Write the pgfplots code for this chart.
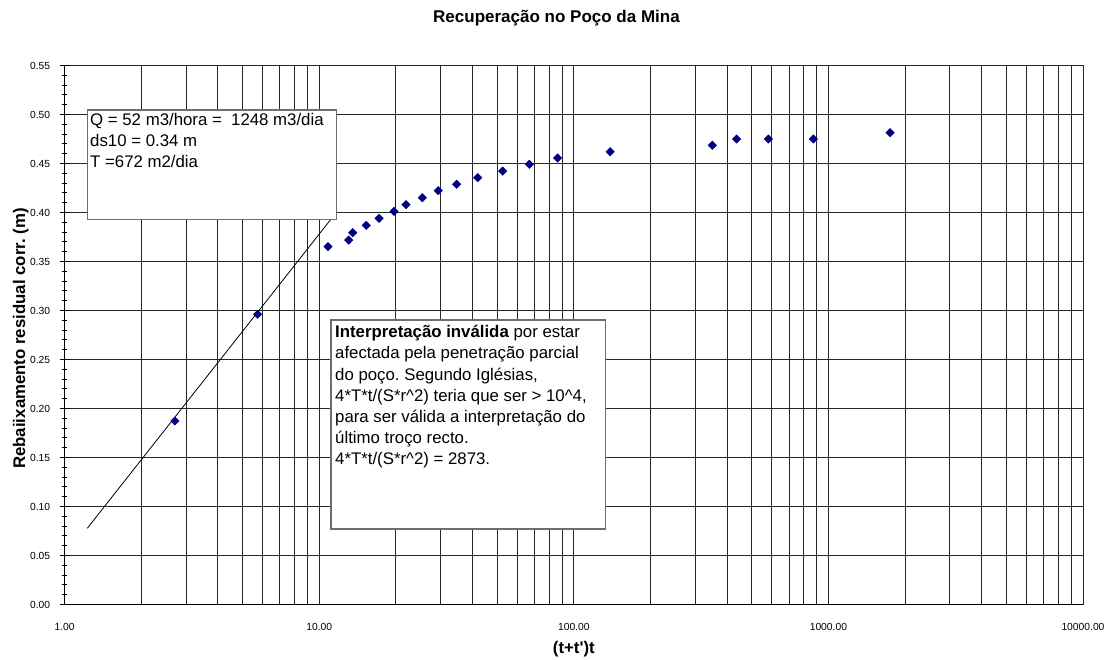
\documentclass[border=0pt]{standalone}
\usepackage{fontspec}
\setmainfont{Liberation Sans}
\usepackage{pgfplots}
\pgfplotsset{compat=1.18}
\definecolor{navy}{RGB}{0,0,128}
\definecolor{boxgray}{RGB}{110,110,110}
\frenchspacing

\begin{document}
\begin{tikzpicture}
\useasboundingbox (0pt,0pt) rectangle (1113pt,659pt);
\begin{axis}[
  at={(64.6pt,54.5pt)}, anchor=south west,
  scale only axis, width=1018.4pt, height=539pt,
  xmode=log, xmin=1, xmax=10000, ymin=0, ymax=0.55,
  xtick={1,10,100,1000,10000},
  xticklabels={1.00,10.00,100.00,1000.00,10000.00},
  ytick={0,0.05,0.10,0.15,0.20,0.25,0.30,0.35,0.40,0.45,0.50,0.55},
  minor y tick num=4,
  xtick style={draw=none},
  ytick style={black, line width=1pt},
  tick align=center,
  major tick length=10pt, minor tick length=5pt,
  xmajorgrids, xminorgrids, ymajorgrids,
  major grid style={black!85, line width=0.9pt},
  minor grid style={black!85, line width=0.9pt},
  axis x line*=bottom, axis y line*=left,
  axis line style={-, black, line width=1.6pt},
  /pgf/number format/assume math mode=true,
  tick label style={font=\fontsize{10.3}{12}\selectfont},
  yticklabel style={/pgf/number format/fixed, /pgf/number format/fixed zerofill,
    /pgf/number format/precision=2, anchor=east, xshift=-6pt},
  xticklabel style={anchor=base, yshift=-20.5pt},
  every axis x label/.style={at={(axis description cs:0.5,-0.09)}, anchor=base,
    font=\fontsize{16.8}{20}\selectfont\bfseries},
  every axis y label/.style={at={(axis description cs:-0.043,0.4935)}, rotate=90, anchor=center,
    font=\fontsize{16.8}{20}\selectfont\bfseries},
  xlabel={(t+t\textquotesingle)t},
  ylabel={Rebaiixamento residual corr. (m)},
  title={Recuperação no Poço da Mina},
  every axis title/.style={at={(axis description cs:0.483,1.080)}, anchor=base,
    font=\fontsize{17}{20}\selectfont\bfseries},
]
% recta de ajuste
\addplot[black, line width=0.8pt, no marks] coordinates {(1.228,0.0778) (11.48,0.3977)};
% pontos medidos
\addplot[only marks, mark=square*, mark size=3pt,
  mark options={rotate=45, fill=navy, draw=navy}] coordinates {
  (2.71,0.1872) (5.73,0.2961) (10.83,0.3651) (13.06,0.3719) (13.54,0.3794)
  (15.31,0.3869) (17.18,0.3941) (19.67,0.4012) (21.93,0.4080) (25.41,0.4151)
  (29.36,0.4223) (34.67,0.4288) (41.94,0.4355) (52.57,0.4423) (66.88,0.4492)
  (86.45,0.4556) (138.8,0.4620) (349.9,0.4686) (436.3,0.4750) (580.7,0.4750)
  (872.5,0.4750) (1746,0.4814)
};
\end{axis}

\draw[boxgray, line width=1.2pt, fill=white] (87.3pt,549pt) rectangle (336.7pt,439.7pt);
\draw[boxgray, line width=1.2pt, fill=white] (331pt,339pt) rectangle (605.7pt,130pt);
\begin{scope}[every node/.style={anchor=base west, inner sep=0pt, font=\fontsize{16.8}{20}\selectfont}]
\node at (90pt,533pt) {Q = 52 m3/hora = \ 1248 m3/dia};
\node at (90pt,512.3pt) {ds10 = 0.34 m};
\node at (90pt,491.7pt) {T =672 m2/dia};
\node at (335pt,321.3pt) {\textbf{Interpretação inválida} por estar};
\node at (335pt,300.1pt) {afectada pela penetração parcial};
\node at (335pt,278.9pt) {do poço. Segundo Iglésias,};
\node at (335pt,257.7pt) {4*T*t/(S*r\textasciicircum 2) teria que ser > 10\textasciicircum 4,};
\node at (335pt,236.5pt) {para ser válida a interpretação do};
\node at (335pt,215.3pt) {último troço recto.};
\node at (335pt,194.1pt) {4*T*t/(S*r\textasciicircum 2) = 2873.};
\end{scope}
\end{tikzpicture}
\end{document}
